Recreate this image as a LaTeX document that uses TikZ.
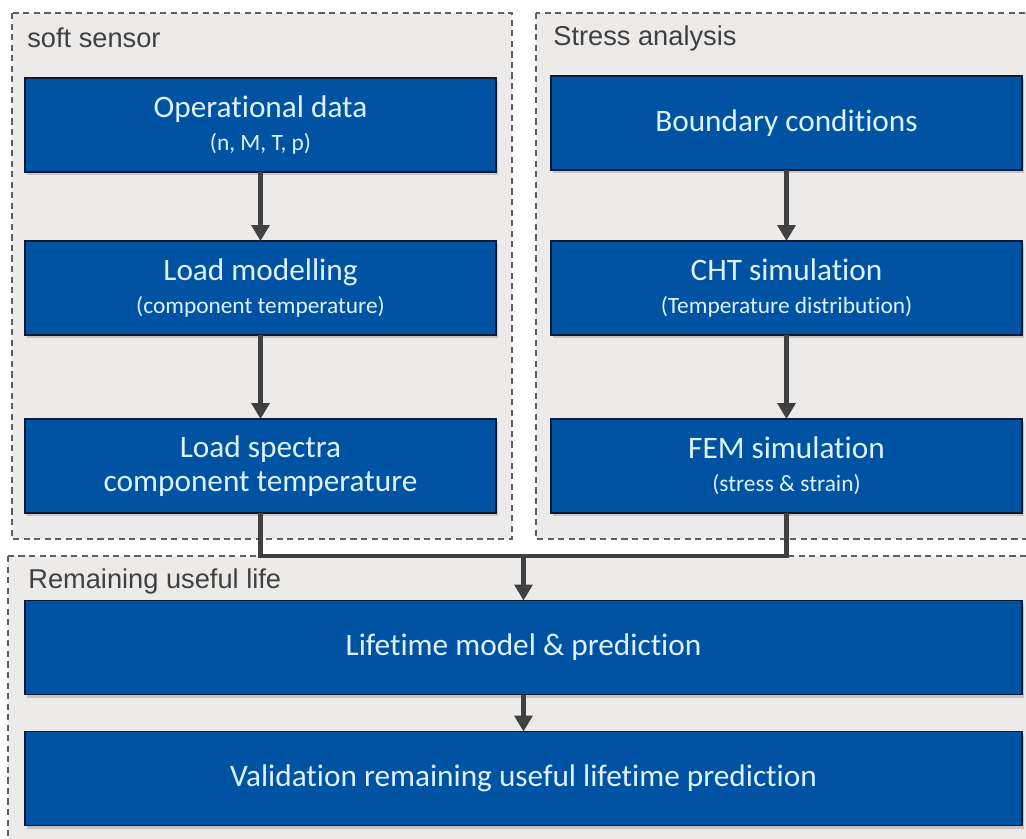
\documentclass[tikz,border=0pt]{standalone}
\usepackage{fontspec}
\setmainfont[Ligatures={NoCommon,NoContextual}]{Carlito}
\newfontfamily\arialfont{Liberation Sans}
\usepackage{xcolor}
\usepackage{tikz}
\usetikzlibrary{positioning,arrows.meta,shadows}
\definecolor{boxblue}{RGB}{0,82,162}
\definecolor{boxline}{RGB}{12,26,52}
\definecolor{boxtext}{RGB}{222,242,255}
\definecolor{panelgray}{RGB}{237,235,233}
\definecolor{dashgray}{RGB}{95,95,95}
\definecolor{arrowgray}{RGB}{64,64,64}
\newcommand{\subfont}{\fontsize{13.3}{19}\selectfont}

\begin{document}
\begin{tikzpicture}[x=0.02cm,y=-0.02cm,
  panel/.style={draw=dashgray,fill=panelgray,line width=1.1pt,dash pattern=on 3.5pt off 2.5pt},
  paneltitle/.style={anchor=west,inner sep=0pt,text=arrowgray,font=\arialfont\fontsize{15.5}{17}\selectfont},
  block/.style={draw=boxline,fill=boxblue,line width=0.9pt,text=boxtext,align=center,
    inner sep=0pt,outer sep=0pt,minimum height=1.88cm,font=\fontsize{17.8}{19}\selectfont,
    drop shadow={shadow xshift=1.2pt,shadow yshift=-1.8pt,opacity=.35}},
  half/.style={block,minimum width=9.42cm},
  wide/.style={block,minimum width=19.94cm},
  link/.style={draw=arrowgray,line width=2.8pt},
  flow/.style={link,-{Triangle[width=10pt,length=9pt]}}]
\clip (0,0) rectangle (1026,838);
\fill[white] (0,0) rectangle (1026,838);
%
\draw[panel] (12,13) rectangle (512,539);
\draw[panel] (536,13) rectangle (1040,539);
\draw[panel] (8,556) rectangle (1040,850);
\node[paneltitle] (soft) at (27,38) {soft sensor};
\node[paneltitle] (stress) at (553,38) {Stress analysis};
\node[paneltitle] (rul) at (28,581) {Remaining useful life};
%
\node[half] (op) at (260.5,125) {Operational data\\{\subfont (n, M, T, p)}};
\node[half] (lm) at (260.5,288) {Load modelling\\{\subfont (component temperature)}};
\node[half] (ls) at (260.5,466) {Load spectra\\component temperature};
\node[half] (bc) at (786.5,123) {Boundary conditions};
\node[half] (cht) at (786.5,288) {CHT simulation\\{\subfont (Temperature distribution)}};
\node[half] (fem) at (786.5,466) {FEM simulation\\{\subfont (stress \& strain)}};
\node[wide] (life) at (523.5,647.5) {Lifetime model \& prediction};
\node[wide] (val) at (523.5,778.5) {Validation remaining useful lifetime prediction};
%
\draw[flow] (op) -- (lm);
\draw[flow] (lm) -- (ls);
\draw[flow] (bc) -- (cht);
\draw[flow] (cht) -- (fem);
\coordinate (j) at (523.5,556);
\draw[link] (ls.south) -- (ls.south |- j) -- (fem.south |- j) -- (fem.south);
\draw[flow] (j) -- (life);
\draw[flow] (life) -- (val);
\end{tikzpicture}
\end{document}
